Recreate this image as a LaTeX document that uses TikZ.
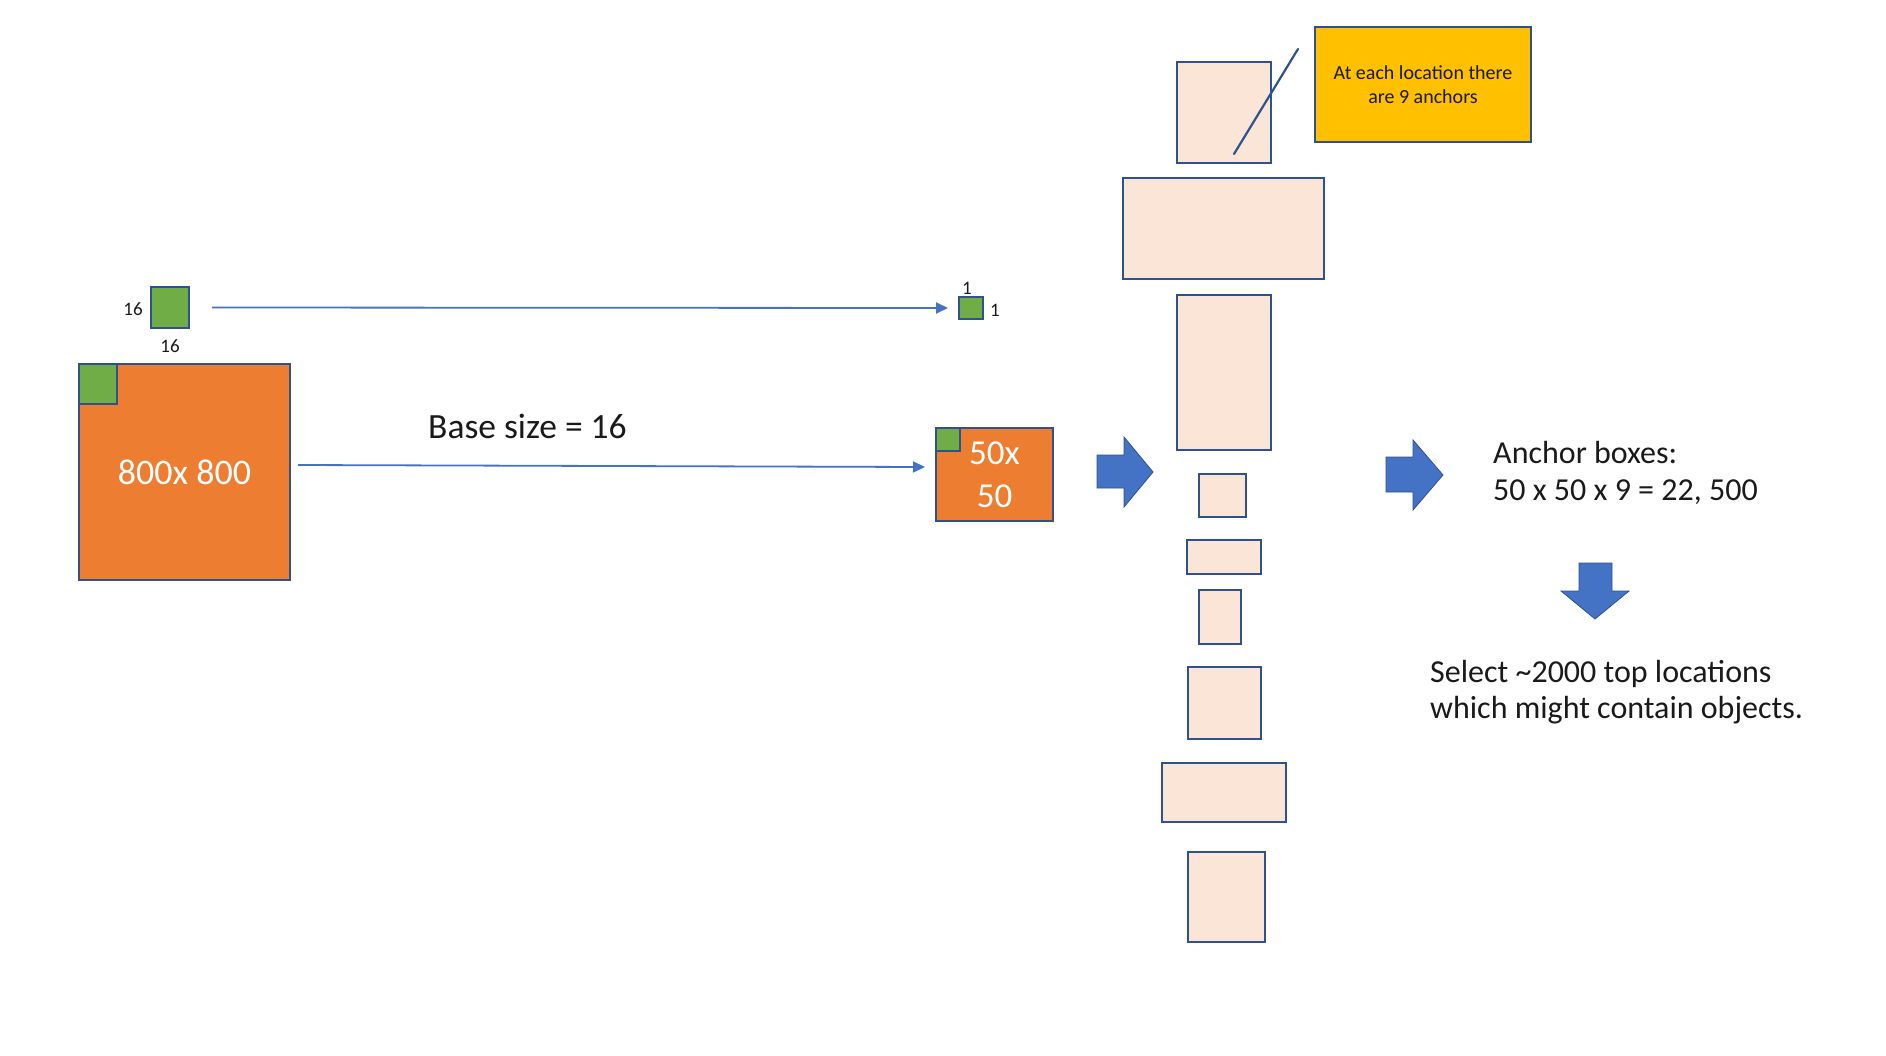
\documentclass[tikz,border=0pt]{standalone}
\usepackage{fontspec}
\setmainfont{Carlito}
\usetikzlibrary{arrows.meta}
\definecolor{cOrange}{HTML}{ED7D31}
\definecolor{cGreen}{HTML}{70AD47}
\definecolor{cEdge}{HTML}{2F528F}
\definecolor{cPeach}{HTML}{FBE5D6}
\definecolor{cYellow}{HTML}{FFC000}
\definecolor{cBlue}{HTML}{4472C4}
\definecolor{cText}{HTML}{1A1A1A}
\tikzset{
  box/.style={draw=cEdge, line width=2.5pt, inner sep=0pt, outer sep=0pt, rectangle},
  orangebox/.style={box, fill=cOrange, text=white},
  greenbox/.style={box, fill=cGreen},
  peachbox/.style={box, fill=cPeach},
  notebox/.style={box, fill=cYellow, text=cText, align=center, font=\fontsize{20}{24}\selectfont},
  conn/.style={draw=cBlue, line width=1.8pt, -{Triangle[length=12pt,width=11pt]}},
  blockarrow/.style={fill=cBlue, draw=cEdge, line width=0.8pt, line join=miter},
  lbl/.style={text=cText, inner sep=0pt},
}
\begin{document}
\begin{tikzpicture}[x=1pt,y=-1pt]
\useasboundingbox (0,0) rectangle (1886,1055);
\fill[white] (0,0) rectangle (1886,1055);

% left side
\node[greenbox, minimum width=38, minimum height=41] (sg) at (170,307.5) {};
\node[lbl, font=\fontsize{19}{23}\selectfont] (sgl) at (133,309) {16};
\node[lbl, font=\fontsize{19}{23}\selectfont] (sgb) at (170,346) {16};

\node[orangebox, minimum width=211, minimum height=216, font=\fontsize{36}{43}\selectfont] (big) at (184.5,472) {800x 800};
\node[greenbox, minimum width=38, minimum height=40] (bigg) at (98,384) {};

\node[lbl, anchor=base west, font=\fontsize{35.5}{42}\selectfont] (base) at (428,438) {Base size = 16};

% feature map side
\node[greenbox, minimum width=24, minimum height=22] (sg2) at (971,308) {};
\node[lbl, font=\fontsize{19}{23}\selectfont] (sg2t) at (967,288) {1};
\node[lbl, font=\fontsize{19}{23}\selectfont] (sg2r) at (995,310) {1};

\node[orangebox, minimum width=117, minimum height=93, align=center, font=\fontsize{35}{43}\selectfont] (so) at (994.5,474.5) {50x\\50};
\node[greenbox, minimum width=24, minimum height=23] (sog) at (948,439.5) {};

% connectors
\draw[conn] ([xshift=23pt]sg.east) -- ([xshift=-11pt]sg2.west);
\draw[conn] ([xshift=8pt,yshift=7pt]big.east) -- ([xshift=-11pt,yshift=7.5pt]so.west);

% block arrows
\draw[blockarrow] (1097,455) -- (1124,455) -- (1124,437) -- (1153,472) -- (1124,507) -- (1124,488) -- (1097,488) -- cycle;
\draw[blockarrow] (1386,457) -- (1413,457) -- (1413,440) -- (1443,475) -- (1413,510) -- (1413,492) -- (1386,492) -- cycle;
\draw[blockarrow] (1579,563) -- (1612,563) -- (1612,591) -- (1629,591) -- (1595,619) -- (1561,591) -- (1579,591) -- cycle;

% anchors
\node[peachbox, minimum width=94, minimum height=101] (r1) at (1224,112.5) {};
\node[peachbox, minimum width=201, minimum height=101] (r2) at (1223.5,228.5) {};
\node[peachbox, minimum width=94, minimum height=155] (r3) at (1224,372.5) {};
\node[peachbox, minimum width=47, minimum height=43] (r4) at (1222.5,495.5) {};
\node[peachbox, minimum width=74, minimum height=34] (r5) at (1224,557) {};
\node[peachbox, minimum width=42, minimum height=54] (r6) at (1220,617) {};
\node[peachbox, minimum width=73, minimum height=72] (r7) at (1224.5,703) {};
\node[peachbox, minimum width=124, minimum height=59] (r8) at (1224,792.5) {};
\node[peachbox, minimum width=77, minimum height=90] (r9) at (1226.5,897) {};

% callout
\node[notebox, minimum width=216, minimum height=115] (note) at (1423,84.5) {At each location there\\are 9 anchors};
\coordinate (leadA) at (1234,154);
\coordinate (leadB) at (1298,49);
\draw[draw=cEdge, line width=2.2pt, line cap=round] (leadA) -- (leadB);

% right texts
\node[lbl, anchor=base west, font=\fontsize{32}{39}\selectfont] (ab1) at (1493,463) {Anchor boxes:};
\node[lbl, anchor=base west, font=\fontsize{32}{39}\selectfont] (ab2) at (1493,500) {50 x 50 x 9 = 22, 500};
\node[lbl, anchor=base west, font=\fontsize{32}{39}\selectfont] (sel1) at (1430,682) {Select \textasciitilde 2000 top locations};
\node[lbl, anchor=base west, font=\fontsize{32}{39}\selectfont] (sel2) at (1430,718) {which might contain objects.};
\end{tikzpicture}
\end{document}
